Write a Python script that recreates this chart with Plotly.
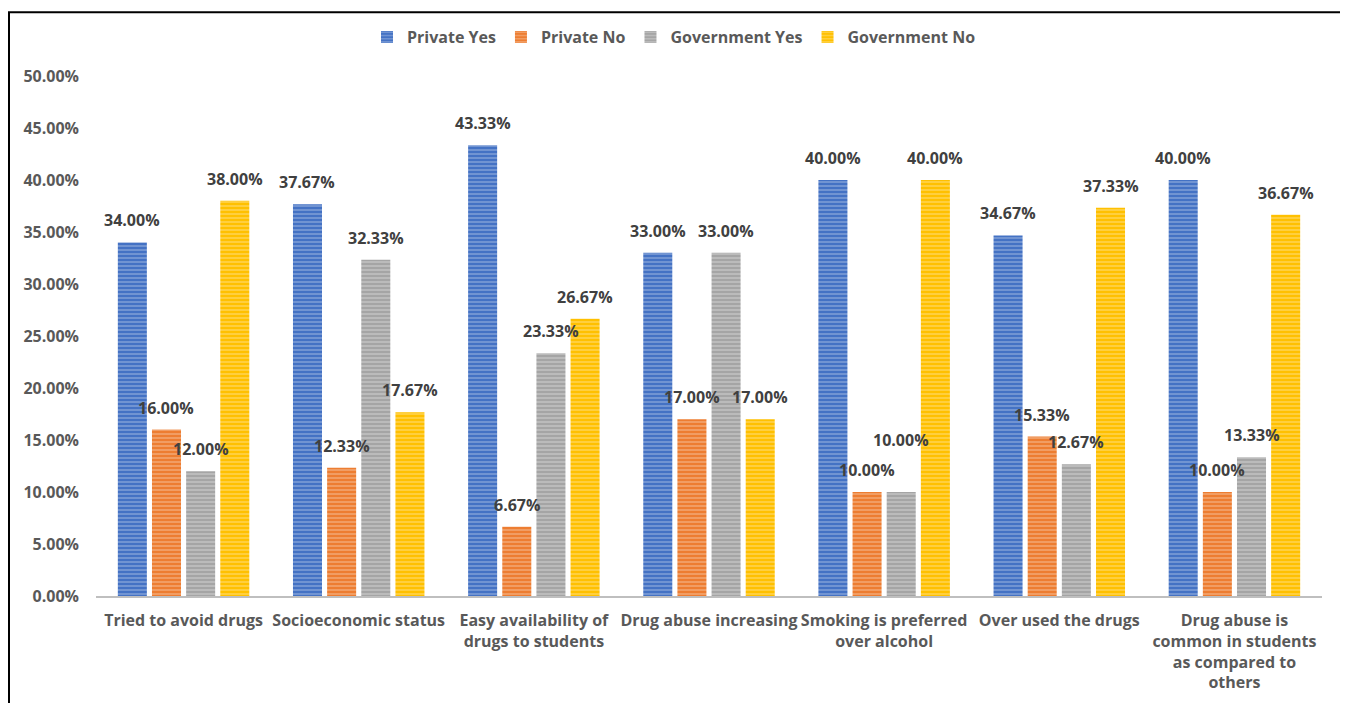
import plotly.graph_objects as go

categories = [
    "Tried to avoid drugs",
    "Socioeconomic status",
    "Easy availability of<br>drugs to students",
    "Drug abuse increasing",
    "Smoking is preferred<br>over alcohol",
    "Over used the drugs",
    "Drug abuse is<br>common in students<br>as compared to<br>others",
]
series_names = ["Private Yes", "Private No", "Government Yes", "Government No"]
private_yes = [34.00, 37.67, 43.33, 33.00, 40.00, 34.67, 40.00]
private_no = [16.00, 12.33, 6.67, 17.00, 10.00, 15.33, 10.00]
government_yes = [12.00, 32.33, 23.33, 33.00, 10.00, 12.67, 13.33]
government_no = [38.00, 17.67, 26.67, 17.00, 40.00, 37.33, 36.67]
y_ticks = [0, 5, 10, 15, 20, 25, 30, 35, 40, 45, 50]

series_values = [private_yes, private_no, government_yes, government_no]
colors = ["#4472C4", "#ED7D31", "#A5A5A5", "#FFC000"]

FONT = "Open Sans, Lato, sans-serif"

W, H = 1340, 695
L, R, T, B = 88, 26, 65, 107
PW, PH = W - L - R, H - T - B
BARGAP = 0.22

fig = go.Figure()
for name, vals, col in zip(series_names, series_values, colors):
    fig.add_trace(go.Bar(
        name=name,
        x=categories,
        y=[v / 100 for v in vals],
        cliponaxis=False,
        marker=dict(
            color=col,
            line=dict(width=0),
            pattern=dict(shape="-", fgcolor="white", fgopacity=0.35, size=4, solidity=0.35),
        ),
    ))

# Data labels above each bar (offset within group by the bar pitch)
pitch = PW / len(categories) * (1 - BARGAP) / len(series_names)
for i, vals in enumerate(series_values):
    for j, v in enumerate(vals):
        extra = 0
        # reference lifts the Government Yes label in "Smoking" to avoid overlap
        if i == 2 and j == 4:
            extra = 30
        fig.add_annotation(
            x=categories[j], y=v / 100,
            xref="x", yref="y",
            text=f"{v:.2f}%",
            showarrow=False,
            xanchor="center", yanchor="bottom",
            xshift=(i - (len(series_names) - 1) / 2) * pitch,
            yshift=9 + extra,
            font=dict(family=FONT, size=16, color="#404040", weight="bold"),
        )

fig.update_layout(
    width=W,
    height=H,
    barmode="group",
    bargap=BARGAP,
    bargroupgap=0.15,
    margin=dict(l=L, r=R, t=T, b=B),
    paper_bgcolor="white",
    plot_bgcolor="white",
    font=dict(family=FONT, size=16, color="#595959"),
    legend=dict(
        orientation="h",
        x=(666 - L) / PW, xanchor="center",
        y=1 + (T - 26) / PH, yanchor="middle",
        font=dict(family=FONT, size=16, color="#595959", weight="bold"),
        traceorder="normal",
        itemwidth=30,
    ),
    showlegend=True,
    xaxis=dict(
        showline=True, linecolor="#BFBFBF", linewidth=1.5,
        ticks="", showgrid=False, automargin=False,
        ticklabelstandoff=9,
        tickfont=dict(family=FONT, size=16, color="#595959", weight="bold"),
    ),
    yaxis=dict(
        range=[0, 0.5],
        tickvals=[t / 100 for t in y_ticks],
        tickformat=".2%",
        showgrid=False, zeroline=False, showline=False, automargin=False,
        tickfont=dict(family=FONT, size=16, color="#595959", weight="bold"),
        ticklabelstandoff=16,
    ),
)

# Frame border around the chart
fig.add_shape(
    type="rect", xref="paper", yref="paper",
    x0=(1 - L) / PW, x1=(1335 - L) / PW,
    y0=-0.3, y1=1 + (T - 1) / PH,
    line=dict(color="black", width=2), fillcolor="rgba(0,0,0,0)", layer="above",
)

fig.write_html("out.html")
